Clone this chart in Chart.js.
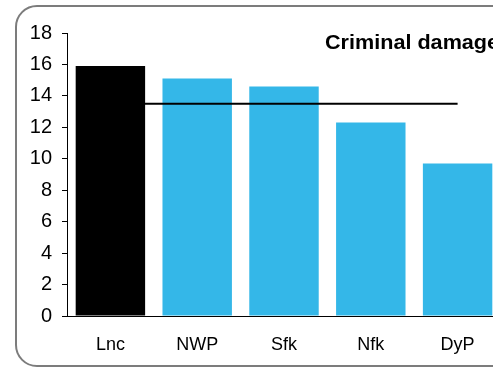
<!DOCTYPE html>
<html>
<head>
<meta charset="utf-8">
<script src="https://cdn.jsdelivr.net/npm/chart.js@4"></script>
<style>
  html, body { margin: 0; padding: 0; width: 493px; height: 368px; overflow: hidden; background: #fff; }
  .frame {
    position: absolute; left: 15px; top: 5px; width: 540px; height: 358px;
    border: 2px solid #7c7c7c; border-radius: 22px;
  }
  .wrap { position: absolute; left: 0; top: 0; width: 520px; height: 368px; }
  .title {
    position: absolute; left: 325px; top: 32px; white-space: nowrap;
    font: bold 20px "Liberation Sans", Arial, sans-serif; line-height: 20px; color: #000;
    transform: scaleX(1.08); transform-origin: left top;
  }
</style>
</head>
<body>
<div class="frame"></div>
<div class="wrap"><canvas id="chart" width="520" height="368"></canvas></div>
<div class="title">Criminal damage</div>
<script>
// values
const categories = ['Lnc', 'NWP', 'Sfk', 'Nfk', 'DyP'];
const values = [15.9, 15.1, 14.6, 12.3, 9.7];
const average = [13.5, 13.5, 13.5, 13.5, 13.5];
const barColors = ['#000000', '#34b7e8', '#34b7e8', '#34b7e8', '#34b7e8'];
const yTicks = [0, 2, 4, 6, 8, 10, 12, 14, 16, 18];

const ctx = document.getElementById('chart').getContext('2d');

new Chart(ctx, {
    type: 'bar',
    data: {
        labels: categories,
        datasets: [
            {
                type: 'line',
                label: 'Average',
                data: average,
                borderColor: '#000',
                borderWidth: 2,
                pointRadius: 0,
                order: 0
            },
            {
                label: 'Criminal damage',
                data: values,
                backgroundColor: barColors,
                categoryPercentage: 1,
                barPercentage: 0.8,
                order: 1
            }
        ]
    },
    options: {
        responsive: false,
        animation: false,
        layout: { padding: { top: 33, right: 19, left: 0, bottom: 0 } },
        plugins: {
            legend: { display: false },
            tooltip: { enabled: false }
        },
        scales: {
            x: {
                grid: { display: true, drawOnChartArea: false, drawTicks: false },
                border: { display: true, color: '#000', width: 1 },
                ticks: {
                    color: '#000',
                    padding: 18,
                    font: { family: 'Liberation Sans', size: 18 }
                },
                afterFit: function (axis) { axis.height = 52; }
            },
            y: {
                min: 0,
                max: 18,
                afterBuildTicks: function (axis) {
                    axis.ticks = yTicks.map(v => ({ value: v }));
                },
                grid: { display: true, drawOnChartArea: false, drawTicks: true, tickLength: 5, color: '#000' },
                border: { display: true, color: '#000', width: 1 },
                ticks: {
                    color: '#000',
                    padding: 10,
                    font: { family: 'Liberation Sans', size: 20 }
                },
                afterFit: function (axis) { axis.width = 67; }
            }
        }
    }
});
</script>
</body>
</html>
